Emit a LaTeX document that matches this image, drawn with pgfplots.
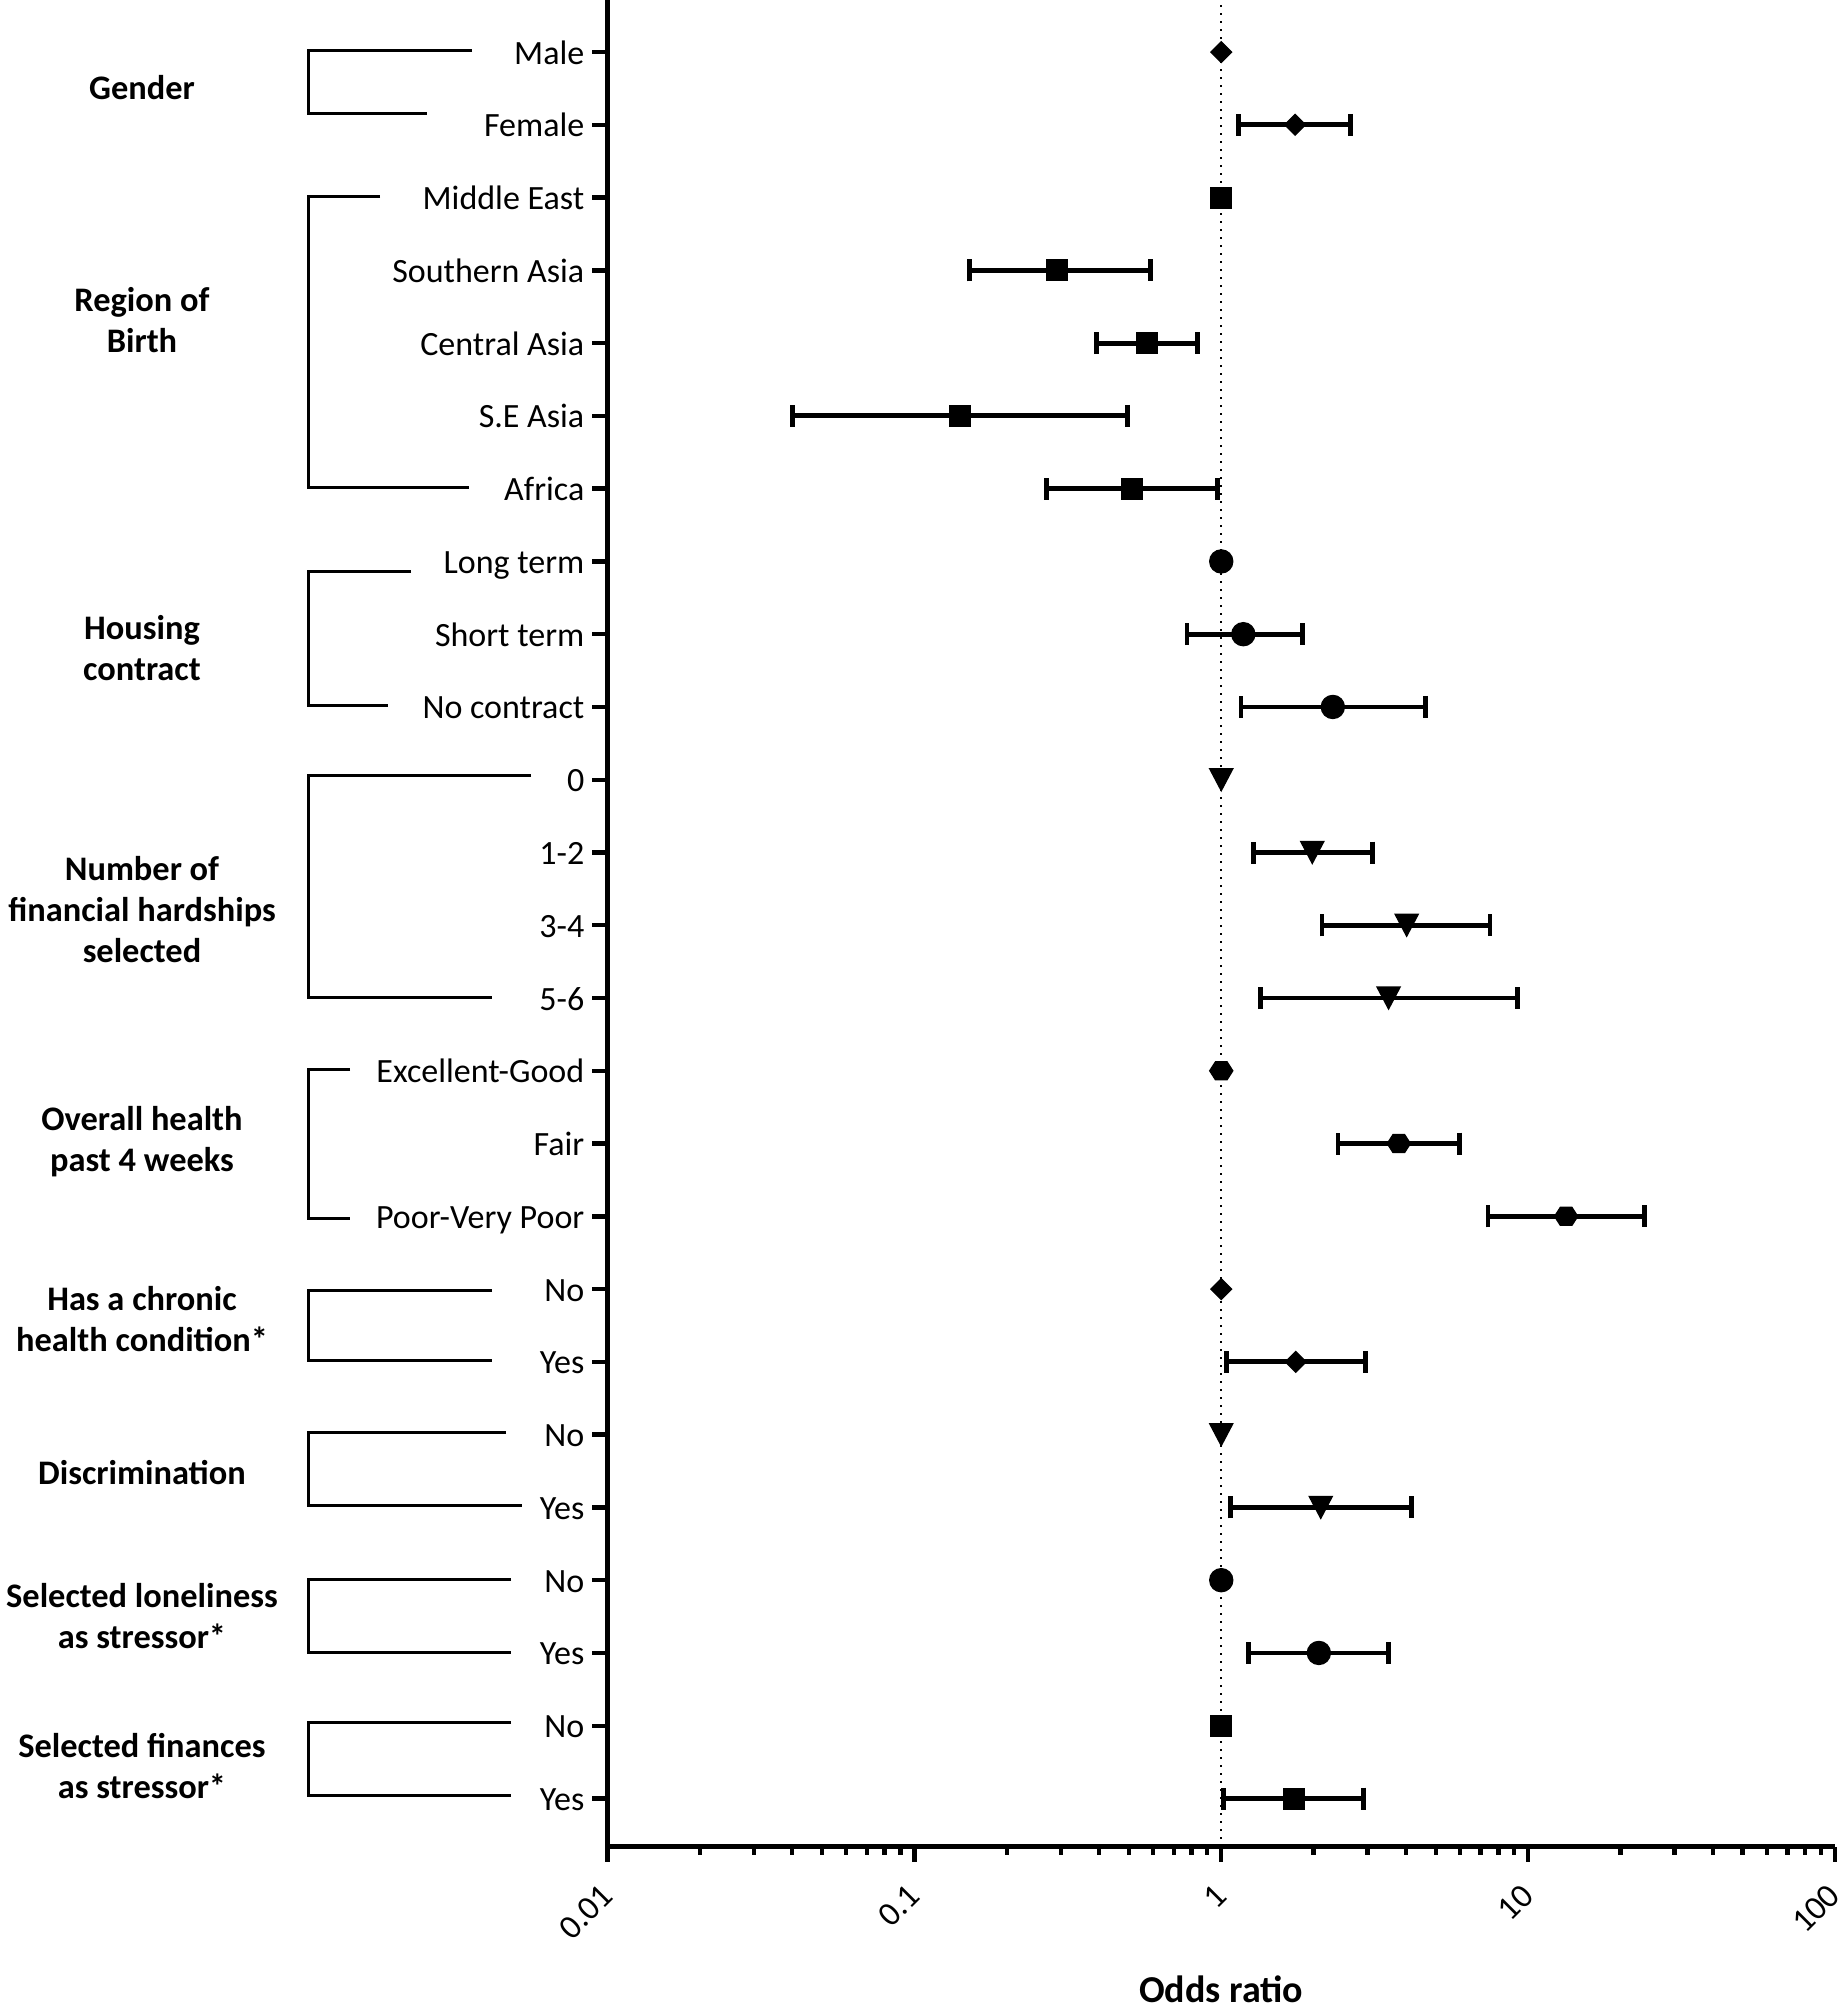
\documentclass[border=0pt]{standalone}
\usepackage{fontspec}
\setmainfont{Carlito}
\usepackage{pgfplots}
\usepackage{pgfplotstable}
\pgfplotsset{compat=1.18}

% marker shapes of the original figure
\pgfdeclareplotmark{odiamond}{%
  \pgfpathmoveto{\pgfqpoint{0pt}{\pgfplotmarksize}}%
  \pgfpathlineto{\pgfqpoint{\pgfplotmarksize}{0pt}}%
  \pgfpathlineto{\pgfqpoint{0pt}{-\pgfplotmarksize}}%
  \pgfpathlineto{\pgfqpoint{-\pgfplotmarksize}{0pt}}%
  \pgfpathclose\pgfusepathqfillstroke}
\pgfdeclareplotmark{otridown}{%
  \pgfpathmoveto{\pgfqpoint{-\pgfplotmarksize}{.95\pgfplotmarksize}}%
  \pgfpathlineto{\pgfqpoint{\pgfplotmarksize}{.95\pgfplotmarksize}}%
  \pgfpathlineto{\pgfqpoint{0pt}{-.95\pgfplotmarksize}}%
  \pgfpathclose\pgfusepathqfillstroke}
\pgfdeclareplotmark{ohex}{%
  \pgfpathmoveto{\pgfqpoint{\pgfplotmarksize}{0pt}}%
  \pgfpathlineto{\pgfqpoint{.5\pgfplotmarksize}{.78\pgfplotmarksize}}%
  \pgfpathlineto{\pgfqpoint{-.5\pgfplotmarksize}{.78\pgfplotmarksize}}%
  \pgfpathlineto{\pgfqpoint{-\pgfplotmarksize}{0pt}}%
  \pgfpathlineto{\pgfqpoint{-.5\pgfplotmarksize}{-.78\pgfplotmarksize}}%
  \pgfpathlineto{\pgfqpoint{.5\pgfplotmarksize}{-.78\pgfplotmarksize}}%
  \pgfpathclose\pgfusepathqfillstroke}

% rows: y = -row index (Male = 0 at the top)
\pgfplotstableread{
y   or    lo    hi
-1  1.74  1.14  2.63
-18 1.75  1.04  2.96
}\diamtab
\pgfplotstableread{
y   or    lo    hi
-3  0.292 0.151 0.587
-4  0.574 0.392 0.835
-5  0.141 0.040 0.494
-6  0.513 0.269 0.97
-24 1.73  1.02  2.91
}\sqtab
\pgfplotstableread{
y   or    lo    hi
-8  1.18  0.774 1.84
-9  2.31  1.16  4.64
-22 2.08  1.23  3.51
}\circtab
\pgfplotstableread{
y   or    lo    hi
-11 1.98  1.27  3.11
-12 4.02  2.13  7.51
-13 3.51  1.34  9.26
-20 2.11  1.07  4.17
}\tritab
\pgfplotstableread{
y   or    lo    hi
-15 3.79  2.40  5.97
-16 13.3  7.40  24.0
}\hextab

\pgfplotsset{
  ci/.style={only marks, black, line width=1.2pt,
    mark options={solid, fill=black, line width=0.3pt},
    error bars/x dir=both, error bars/x explicit,
    error bars/error mark=|,
    error bars/error bar style={line width=1.2pt},
    error bars/error mark options={line width=1.2pt, mark size=2.75pt}},
}

\begin{document}
\begin{tikzpicture}
\useasboundingbox (0,0) rectangle (461.25pt,-501.25pt);
\begin{axis}[
    at={(151.875pt,-461.625pt)}, anchor=south west,
    scale only axis, width=306.875pt, height=461.625pt,
    xmode=log, xmin=0.01, xmax=100,
    ymin=-24.66, ymax=0.715,
    axis x line=bottom, axis y line=left,
    axis line style={-, line width=1.4pt},
    tick align=outside, major tick length=3.8pt, minor tick length=2.1pt,
    every tick/.style={black, line width=1.1pt},
    xtick={0.01,0.1,1,10,100},
    xticklabels={0.01,0.1,1,10,100},
    xticklabel style={rotate=45, anchor=east, inner sep=0pt,
      font=\fontsize{8.5}{10.2}\selectfont},
    xticklabel shift=7.1pt,
    ytick={-24,...,0},
    yticklabels={Yes,No,Yes,No,Yes,No,Yes,No,Poor-Very Poor,Fair,Excellent-Good,
      5-6,3-4,1-2,0,No contract,Short term,Long term,Africa,S.E Asia,
      Central Asia,Southern Asia,Middle East,Female,Male},
    yticklabel style={anchor=base east, inner sep=0pt, yshift=-3pt,
      font=\fontsize{8.5}{10.2}\selectfont},
    yticklabel shift=1.8pt,
    xlabel={Odds ratio},
    xlabel style={at={(axis description cs:0.5,0)}, anchor=center,
      yshift=-35.75pt, font=\bfseries\fontsize{9.5}{11.4}\selectfont},
    clip=false,
  ]
  % reference line at OR = 1
  \addplot[black, line width=0.5pt, dash pattern=on 0.5pt off 1.5pt, forget plot]
    coordinates {(1,-24.66) (1,0.715)};

  % confidence intervals
  \addplot[ci, mark=odiamond, mark size=2.6pt] table[x=or, y=y,
    x error plus expr=\thisrow{hi}-\thisrow{or},
    x error minus expr=\thisrow{or}-\thisrow{lo}] {\diamtab};
  \addplot[ci, mark=square*, mark size=2.6pt] table[x=or, y=y,
    x error plus expr=\thisrow{hi}-\thisrow{or},
    x error minus expr=\thisrow{or}-\thisrow{lo}] {\sqtab};
  \addplot[ci, mark=*, mark size=2.9pt] table[x=or, y=y,
    x error plus expr=\thisrow{hi}-\thisrow{or},
    x error minus expr=\thisrow{or}-\thisrow{lo}] {\circtab};
  \addplot[ci, mark=otridown, mark size=2.9pt] table[x=or, y=y,
    x error plus expr=\thisrow{hi}-\thisrow{or},
    x error minus expr=\thisrow{or}-\thisrow{lo}] {\tritab};
  \addplot[ci, mark=ohex, mark size=2.9pt] table[x=or, y=y,
    x error plus expr=\thisrow{hi}-\thisrow{or},
    x error minus expr=\thisrow{or}-\thisrow{lo}] {\hextab};

  % reference categories (OR = 1)
  \addplot[only marks, mark=odiamond, mark size=2.6pt, mark options={fill=black, line width=0.3pt}]
    coordinates {(1,0) (1,-17)};
  \addplot[only marks, mark=square*, mark size=2.6pt, mark options={fill=black, line width=0.3pt}]
    coordinates {(1,-2) (1,-23)};
  \addplot[only marks, mark=*, mark size=2.9pt, mark options={fill=black, line width=0.3pt}]
    coordinates {(1,-7) (1,-21)};
  \addplot[only marks, mark=otridown, mark size=2.9pt, mark options={fill=black, line width=0.3pt}]
    coordinates {(1,-10) (1,-19)};
  \addplot[only marks, mark=ohex, mark size=2.9pt, mark options={fill=black, line width=0.3pt}]
    coordinates {(1,-14)};
\end{axis}

% group brackets and labels, in pixel units from the top left corner
\begin{scope}[x=0.25pt, y=-0.25pt, line width=0.75pt,
    grp/.style={align=center, font=\bfseries\fontsize{8.6}{10.25}\selectfont}]
  \draw (472,50) -- (308,50) -- (308,113) -- (427,113);
  \draw (380,196) -- (308,196) -- (308,487) -- (469,487);
  \draw (411,571) -- (308,571) -- (308,705) -- (388,705);
  \draw (531,775) -- (308,775) -- (308,997) -- (492,997);
  \draw (350,1069) -- (308,1069) -- (308,1218) -- (350,1218);
  \draw (492,1290) -- (308,1290) -- (308,1360) -- (492,1360);
  \draw (506,1432) -- (308,1432) -- (308,1505) -- (522,1505);
  \draw (511,1579) -- (308,1579) -- (308,1652) -- (511,1652);
  \draw (511,1722) -- (308,1722) -- (308,1795) -- (511,1795);

  \node[grp] at (142,88) {Gender};
  \node[grp] at (142,320) {Region of\\Birth};
  \node[grp] at (142,648) {Housing\\contract};
  \node[grp] at (142,910) {Number of\\financial hardships\\selected};
  \node[grp] at (142,1142) {Overall health\\past 4 weeks};
  \node[grp] at (142,1319) {Has a chronic\\health condition*};
  \node[grp] at (142,1473) {Discrimination};
  \node[grp] at (142,1616) {Selected loneliness\\as stressor*};
  \node[grp] at (142,1766) {Selected finances\\as stressor*};
\end{scope}
\end{tikzpicture}
\end{document}
